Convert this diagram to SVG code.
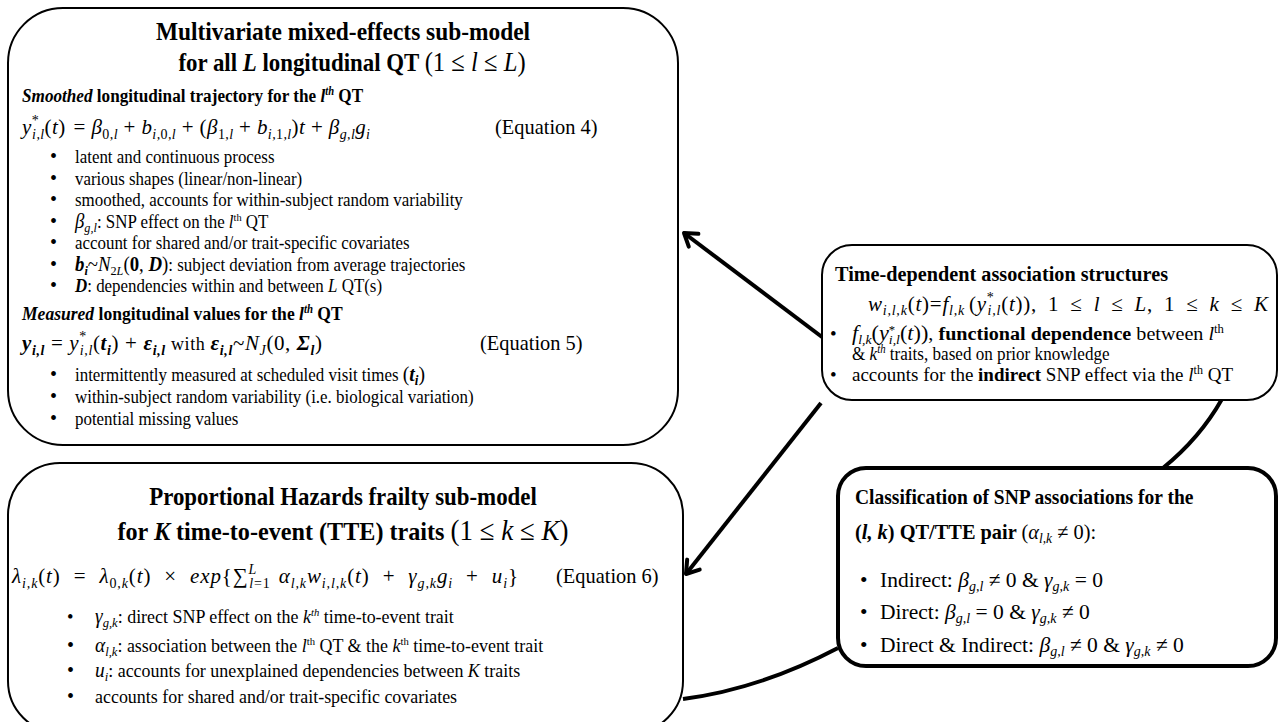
<svg xmlns="http://www.w3.org/2000/svg" width="1284" height="722" viewBox="0 0 1284 722">
<defs>
<style>
.box{fill:#fff;stroke:#000;stroke-width:2}
.box4{fill:#fff;stroke:#000;stroke-width:4}
.con{fill:none;stroke:#000;stroke-width:4}
text{font-family:"Liberation Serif","Times New Roman",serif;fill:#000}
.t1{font-size:26px;font-weight:bold}
.t2{font-size:19.5px;font-weight:bold}
.t3{font-size:22px;font-weight:bold}
.eq{font-size:21px}
.bd{font-size:18px}
.bd2{font-size:18.5px}
.dot{font-size:20px}
.rb{font-size:19px}
.cl{font-size:21px}
.cb{font-size:21.5px}
.lb{font-size:21.5px}
.it{font-style:italic}
.bf{font-weight:bold}
.nb{font-weight:normal}
</style>
<marker id="arr" markerUnits="userSpaceOnUse" markerWidth="24" markerHeight="24" refX="17" refY="12" orient="auto"><path d="M5,4 L17,12 L5,20" fill="none" stroke="#000" stroke-width="4" stroke-linecap="round" stroke-linejoin="round"/></marker>
</defs>
<rect width="1284" height="722" fill="#fff"/>

<g id="connectors">
<path class="con" d="M822,337 L684,233" marker-end="url(#arr)"/>
<path class="con" d="M821,403 L686,574" marker-end="url(#arr)"/>
<path class="con" d="M683,699 Q760,689 838,648"/>
<path class="con" d="M1222,399 Q1200,438 1163,468"/>
</g>

<g id="mixed-model">
<rect class="box" x="8" y="8" width="670" height="437" rx="55"/>
<text class="t1" text-anchor="middle" transform="translate(343,40) scale(0.9,1)">Multivariate mixed-effects sub-model</text>
<text class="t1" text-anchor="middle" transform="translate(352,71) scale(0.88,1)">for all <tspan class="it">L</tspan> longitudinal QT <tspan class="nb" font-size="28">(1 ≤ <tspan class="it">l</tspan> ≤ <tspan class="it">L</tspan>)</tspan></text>
<text class="t2" transform="translate(22,102) scale(0.88,1)"><tspan class="it">Smoothed</tspan> longitudinal trajectory for the <tspan class="it">l</tspan><tspan class="it" font-size="12" dy="-7">th</tspan><tspan dy="7"> QT</tspan></text>
<text class="eq" transform="translate(22,134)" textLength="348" lengthAdjust="spacing"><tspan class="it">y</tspan><tspan font-size="14" dy="-9">*</tspan><tspan class="it" font-size="14" dx="-7" dy="14">i,l</tspan><tspan dy="-5">(</tspan><tspan class="it">t</tspan><tspan>)</tspan><tspan dx="8">= </tspan><tspan class="it">β</tspan><tspan font-size="14" dy="5">0,<tspan class="it">l</tspan></tspan><tspan dy="-5"> + </tspan><tspan class="it">b</tspan><tspan class="it" font-size="14" dy="5">i,<tspan font-style="normal">0</tspan>,l</tspan><tspan dy="-5"> + (</tspan><tspan class="it">β</tspan><tspan font-size="14" dy="5">1,<tspan class="it">l</tspan></tspan><tspan dy="-5"> + </tspan><tspan class="it">b</tspan><tspan class="it" font-size="14" dy="5">i,<tspan font-style="normal">1</tspan>,l</tspan><tspan dy="-5">)</tspan><tspan class="it">t</tspan><tspan> + </tspan><tspan class="it">β</tspan><tspan class="it" font-size="14" dy="5">g,l</tspan><tspan class="it" dy="-5">g</tspan><tspan class="it" font-size="14" dy="5">i</tspan></text>
<text class="lb" transform="translate(495,134) scale(0.95,1)">(Equation 4)</text>
<g class="bullets">
<text class="dot" transform="translate(50,163)">•</text>
<text class="bd" transform="translate(75,163) scale(0.94,1)">latent and continuous process</text>
<text class="dot" transform="translate(50,185)">•</text>
<text class="bd" transform="translate(75,185) scale(0.94,1)">various shapes (linear/non-linear)</text>
<text class="dot" transform="translate(50,206)">•</text>
<text class="bd" transform="translate(75,206) scale(0.94,1)">smoothed, accounts for within-subject random variability</text>
<text class="dot" transform="translate(50,228)">•</text>
<text class="bd" transform="translate(75,228) scale(0.94,1)"><tspan class="it" font-size="20">β</tspan><tspan class="it" font-size="13" dy="4">g,l</tspan><tspan dy="-4">: SNP effect on the </tspan><tspan class="it">l</tspan><tspan font-size="11" dy="-7">th</tspan><tspan dy="7"> QT</tspan></text>
<text class="dot" transform="translate(50,249)">•</text>
<text class="bd" transform="translate(75,249) scale(0.94,1)">account for shared and/or trait-specific covariates</text>
<text class="dot" transform="translate(50,271)">•</text>
<text class="bd" transform="translate(75,271) scale(0.94,1)"><tspan class="it bf" font-size="20">b</tspan><tspan class="it bf" font-size="13" dy="4">i</tspan><tspan dy="-4" font-size="20">~</tspan><tspan class="it" font-size="20">N</tspan><tspan font-size="13" dy="4">2<tspan class="it">L</tspan></tspan><tspan dy="-4" font-size="20">(<tspan class="bf">0</tspan>, <tspan class="bf it">D</tspan>)</tspan>: subject deviation from average trajectories</text>
<text class="dot" transform="translate(50,292)">•</text>
<text class="bd" transform="translate(75,292) scale(0.94,1)"><tspan class="it bf">D</tspan>: dependencies within and between <tspan class="it">L</tspan> QT(s)</text>
</g>
<text class="t2" transform="translate(22,320) scale(0.9,1)"><tspan class="it">Measured</tspan> longitudinal values for the <tspan class="it">l</tspan><tspan class="it" font-size="12" dy="-7">th</tspan><tspan dy="7"> QT</tspan></text>
<text class="eq" transform="translate(22,350)" textLength="300" lengthAdjust="spacing"><tspan class="it bf">y</tspan><tspan class="it bf" font-size="14" dy="5">i,l</tspan><tspan dy="-5"> = </tspan><tspan class="it">y</tspan><tspan font-size="14" dy="-9">*</tspan><tspan class="it" font-size="14" dx="-7" dy="14">i,l</tspan><tspan dy="-5">(</tspan><tspan class="it bf">t</tspan><tspan class="it bf" font-size="14" dy="5">i</tspan><tspan dy="-5">) + </tspan><tspan class="it bf">ε</tspan><tspan class="it bf" font-size="14" dy="5">i,l</tspan><tspan dy="-5" font-size="18"> with </tspan><tspan class="it bf">ε</tspan><tspan class="it bf" font-size="14" dy="5">i,l</tspan><tspan dy="-5">~</tspan><tspan class="it">N</tspan><tspan class="it" font-size="14" dy="5">J</tspan><tspan dy="-5">(0, </tspan><tspan class="it bf">Σ</tspan><tspan class="it bf" font-size="14" dy="5">l</tspan><tspan dy="-5">)</tspan></text>
<text class="lb" transform="translate(480,350) scale(0.95,1)">(Equation 5)</text>
<g class="bullets">
<text class="dot" transform="translate(50,381)">•</text>
<text class="bd" transform="translate(75,381) scale(0.94,1)">intermittently measured at scheduled visit times <tspan font-size="21">(</tspan><tspan class="bf it" font-size="21">t</tspan><tspan class="bf it" font-size="14" dy="4">i</tspan><tspan dy="-4" font-size="21">)</tspan></text>
<text class="dot" transform="translate(50,403)">•</text>
<text class="bd" transform="translate(75,403) scale(0.94,1)">within-subject random variability (i.e. biological variation)</text>
<text class="dot" transform="translate(50,425)">•</text>
<text class="bd" transform="translate(75,425) scale(0.94,1)">potential missing values</text>
</g>
</g>

<g id="association">
<rect class="box" x="822" y="245" width="455" height="155" rx="30"/>
<text class="t3" transform="translate(835,281) scale(0.92,1)">Time-dependent association structures</text>
<text class="eq" font-size="22" transform="translate(868,311)" textLength="400" lengthAdjust="spacing"><tspan class="it">w</tspan><tspan class="it" font-size="14" dy="4">i,l,k</tspan><tspan dy="-4">(</tspan><tspan class="it">t</tspan><tspan>)=</tspan><tspan class="it">f</tspan><tspan class="it" font-size="14" dy="4">l,k</tspan><tspan dy="-4" dx="4">(</tspan><tspan class="it">y</tspan><tspan font-size="14" dy="-9">*</tspan><tspan class="it" font-size="14" dx="-7" dy="13">i,l</tspan><tspan dy="-4">(</tspan><tspan class="it">t</tspan><tspan>)),</tspan><tspan dx="11">1</tspan><tspan dx="11">≤</tspan><tspan class="it" dx="11">l</tspan><tspan dx="11">≤</tspan><tspan class="it" dx="11">L</tspan><tspan>,</tspan><tspan dx="11">1</tspan><tspan dx="11">≤</tspan><tspan class="it" dx="11">k</tspan><tspan dx="11">≤</tspan><tspan class="it" dx="11">K</tspan></text>
<text class="rb" transform="translate(830,340)">•</text>
<text class="rb" transform="translate(852,340) scale(1.06,1)"><tspan class="it" font-size="21">f</tspan><tspan class="it" font-size="13" dy="4">l,k</tspan><tspan dy="-4" font-size="21">(</tspan><tspan class="it" font-size="21">y</tspan><tspan font-size="12" dy="-6">*</tspan><tspan class="it" font-size="13" dx="-6" dy="10">i,l</tspan><tspan dy="-4" font-size="21">(</tspan><tspan class="it" font-size="21">t</tspan><tspan font-size="21">))</tspan>, <tspan class="bf">functional dependence</tspan> between <tspan class="it">l</tspan><tspan font-size="12" dy="-7">th</tspan></text>
<text class="rb" transform="translate(852,360) scale(0.9,1)">&amp; <tspan class="it">k</tspan><tspan class="it" font-size="12" dy="-7">th</tspan><tspan dy="7"> traits, based on prior knowledge</tspan></text>
<text class="rb" transform="translate(830,381)">•</text>
<text class="rb" transform="translate(852,381)">accounts for the <tspan class="bf">indirect</tspan> SNP effect via the <tspan class="it">l</tspan><tspan font-size="12" dy="-7">th</tspan><tspan dy="7"> QT</tspan></text>
</g>

<g id="classification">
<rect class="box4" x="838" y="468" width="438" height="198" rx="28"/>
<text class="cl bf" transform="translate(855,504) scale(0.93,1)">Classification of SNP associations for the</text>
<text class="cl" transform="translate(855,539) scale(0.97,1)"><tspan class="bf">(<tspan class="it">l, k</tspan>) QT/TTE pair </tspan>(<tspan class="it">α</tspan><tspan class="it" font-size="14" dy="4">l,k</tspan><tspan dy="-4"> ≠ 0):</tspan></text>
<text class="cb" transform="translate(860,587)">•</text>
<text class="cb" transform="translate(880,587)">Indirect: <tspan class="it">β</tspan><tspan class="it" font-size="14" dy="4">g,l</tspan><tspan dy="-4"> ≠ 0 &amp; </tspan><tspan class="it">γ</tspan><tspan class="it" font-size="14" dy="4">g,k</tspan><tspan dy="-4"> = 0</tspan></text>
<text class="cb" transform="translate(860,619)">•</text>
<text class="cb" transform="translate(880,619)">Direct: <tspan class="it">β</tspan><tspan class="it" font-size="14" dy="4">g,l</tspan><tspan dy="-4"> = 0 &amp; </tspan><tspan class="it">γ</tspan><tspan class="it" font-size="14" dy="4">g,k</tspan><tspan dy="-4"> ≠ 0</tspan></text>
<text class="cb" transform="translate(860,652)">•</text>
<text class="cb" transform="translate(880,652)">Direct &amp; Indirect: <tspan class="it">β</tspan><tspan class="it" font-size="14" dy="4">g,l</tspan><tspan dy="-4"> ≠ 0 &amp; </tspan><tspan class="it">γ</tspan><tspan class="it" font-size="14" dy="4">g,k</tspan><tspan dy="-4"> ≠ 0</tspan></text>
</g>

<g id="hazards-model">
<rect class="box" x="8" y="463" width="675" height="270" rx="52"/>
<text class="t1" text-anchor="middle" transform="translate(343,505) scale(0.88,1)">Proportional Hazards frailty sub-model</text>
<text class="t1" text-anchor="middle" transform="translate(343,540) scale(0.93,1)">for <tspan class="it">K</tspan> time-to-event (TTE) traits <tspan class="nb" font-size="29">(1 ≤ <tspan class="it">k</tspan> ≤ <tspan class="it">K</tspan>)</tspan></text>
<text class="eq" transform="translate(12,583)" textLength="506" lengthAdjust="spacing"><tspan class="it">λ</tspan><tspan class="it" font-size="14" dy="5">i,k</tspan><tspan dy="-5">(</tspan><tspan class="it">t</tspan><tspan>)</tspan><tspan dx="13">=</tspan><tspan class="it" dx="13">λ</tspan><tspan font-size="14" dy="5">0,<tspan class="it">k</tspan></tspan><tspan dy="-5">(</tspan><tspan class="it">t</tspan><tspan>)</tspan><tspan dx="13">×</tspan><tspan class="it" dx="13">exp</tspan><tspan>{∑</tspan><tspan class="it" font-size="14" dy="-9">L</tspan><tspan font-size="14" dx="-8" dy="14"><tspan class="it">l</tspan>=1</tspan><tspan class="it" dx="8" dy="-5">α</tspan><tspan class="it" font-size="14" dy="5">l,k</tspan><tspan class="it" dy="-5">w</tspan><tspan class="it" font-size="14" dy="5">i,l,k</tspan><tspan dy="-5">(</tspan><tspan class="it">t</tspan><tspan>)</tspan><tspan dx="13">+</tspan><tspan class="it" dx="13">γ</tspan><tspan class="it" font-size="14" dy="5">g,k</tspan><tspan class="it" dy="-5">g</tspan><tspan class="it" font-size="14" dy="5">i</tspan><tspan dx="13" dy="-5">+</tspan><tspan class="it" dx="13">u</tspan><tspan class="it" font-size="14" dy="5">i</tspan><tspan dy="-5">}</tspan></text>
<text class="lb" transform="translate(556,583) scale(0.95,1)">(Equation 6)</text>
<g class="bullets">
<text class="bd2" transform="translate(67,623)">•</text>
<text class="bd2" transform="translate(95,623) scale(0.97,1)"><tspan class="it" font-size="20">γ</tspan><tspan class="it" font-size="13" dy="4">g,k</tspan><tspan dy="-4">: direct SNP effect on the </tspan><tspan class="it">k</tspan><tspan class="it" font-size="11" dy="-7">th</tspan><tspan dy="7"> time-to-event trait</tspan></text>
<text class="dot" transform="translate(67,652)">•</text>
<text class="bd2" transform="translate(95,652) scale(0.97,1)"><tspan class="it" font-size="20">α</tspan><tspan class="it" font-size="13" dy="4">l,k</tspan><tspan dy="-4">: association between the </tspan><tspan class="it">l</tspan><tspan font-size="11" dy="-7">th</tspan><tspan dy="7"> QT &amp; the </tspan><tspan class="it">k</tspan><tspan font-size="11" dy="-7">th</tspan><tspan dy="7"> time-to-event trait</tspan></text>
<text class="dot" transform="translate(67,677)">•</text>
<text class="bd2" transform="translate(95,677) scale(0.97,1)"><tspan class="it" font-size="20">u</tspan><tspan class="it" font-size="13" dy="4">i</tspan><tspan dy="-4">: accounts for unexplained dependencies between </tspan><tspan class="it">K</tspan><tspan> traits</tspan></text>
<text class="dot" transform="translate(67,703)">•</text>
<text class="bd2" transform="translate(95,703) scale(0.97,1)">accounts for shared and/or trait-specific covariates</text>
</g>
</g>
</svg>
